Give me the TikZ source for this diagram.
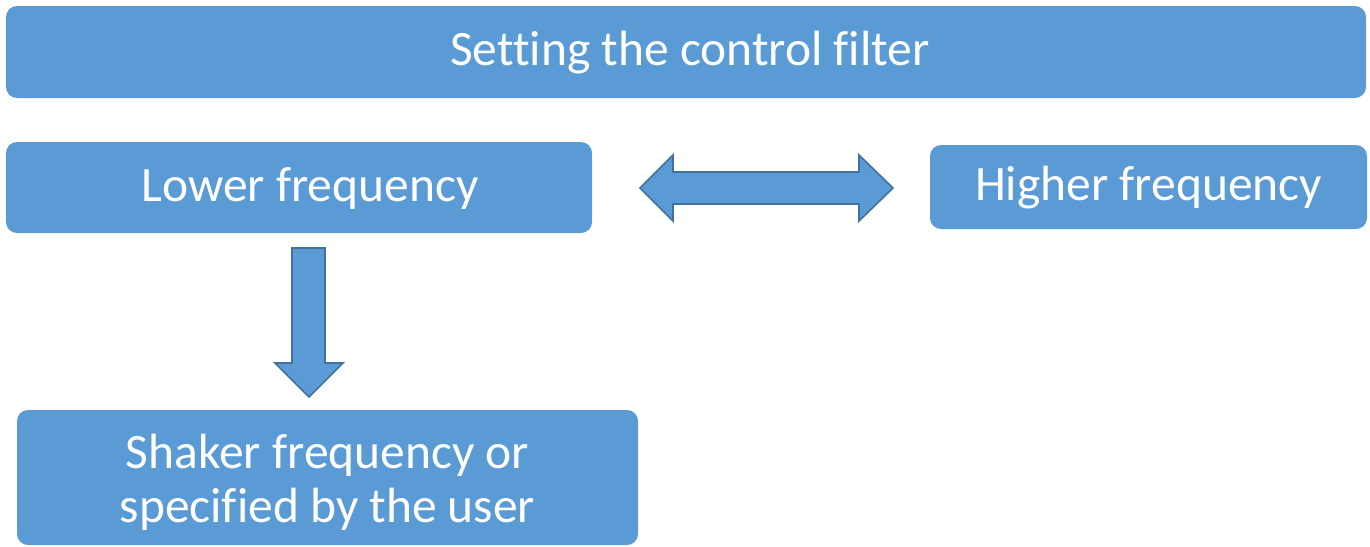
\documentclass[tikz,border=0pt]{standalone}
\usepackage{fontspec}
\setmainfont[Ligatures=NoCommon]{Carlito}
\definecolor{boxblue}{HTML}{5B9BD5}
\definecolor{edgeblue}{HTML}{41719C}
\tikzset{
  stagebox/.style={rectangle, rounded corners=11pt, fill=boxblue, draw=none, inner sep=0pt},
  stagetext/.style={text=white, align=center, inner sep=0pt,
    font=\fontsize{49.5}{54}\selectfont},
  blockarrow/.style={fill=boxblue, draw=edgeblue, line width=1.6pt, line join=miter}
}
\begin{document}
\begin{tikzpicture}[x=1pt, y=-1pt]
  \useasboundingbox (0,0) rectangle (1370,546);

  % filter stages
  \node[stagebox, minimum width=1360pt, minimum height=92pt] (filter) at (686,52) {};
  \node[stagebox, minimum width=586pt, minimum height=91pt] (lower) at (299,187.5) {};
  \node[stagebox, minimum width=437pt, minimum height=84pt] (higher) at (1148.5,187) {};
  \node[stagebox, minimum width=621pt, minimum height=135pt] (shaker) at (327.5,477.5) {};

  % stage labels
  \node[stagetext, anchor=base, xshift=4pt, yshift=-13pt] (filtertext) at (filter.center) {Setting the control filter};
  \node[stagetext, anchor=base, xshift=11pt, yshift=-13.5pt] (lowertext) at (lower.center) {Lower frequency};
  \node[stagetext, anchor=base, yshift=-13.5pt] (highertext) at (higher.center) {Higher frequency};
  \node[stagetext, yshift=-5pt] (shakertext) at (shaker.center) {Shaker frequency or\\specified by the user};

  % two-headed block arrow between the lower and higher bands
  \draw[blockarrow] (640,188) -- (673,155) -- (673,172) -- (859,172) -- (859,155)
    -- (893,188) -- (859,221) -- (859,204) -- (673,204) -- (673,221) -- cycle;

  % block arrow from the lower band down to the shaker setting
  \draw[blockarrow] (292,248) -- (325,248) -- (325,363) -- (343,363) -- (309,397)
    -- (275,363) -- (292,363) -- cycle;
\end{tikzpicture}
\end{document}
